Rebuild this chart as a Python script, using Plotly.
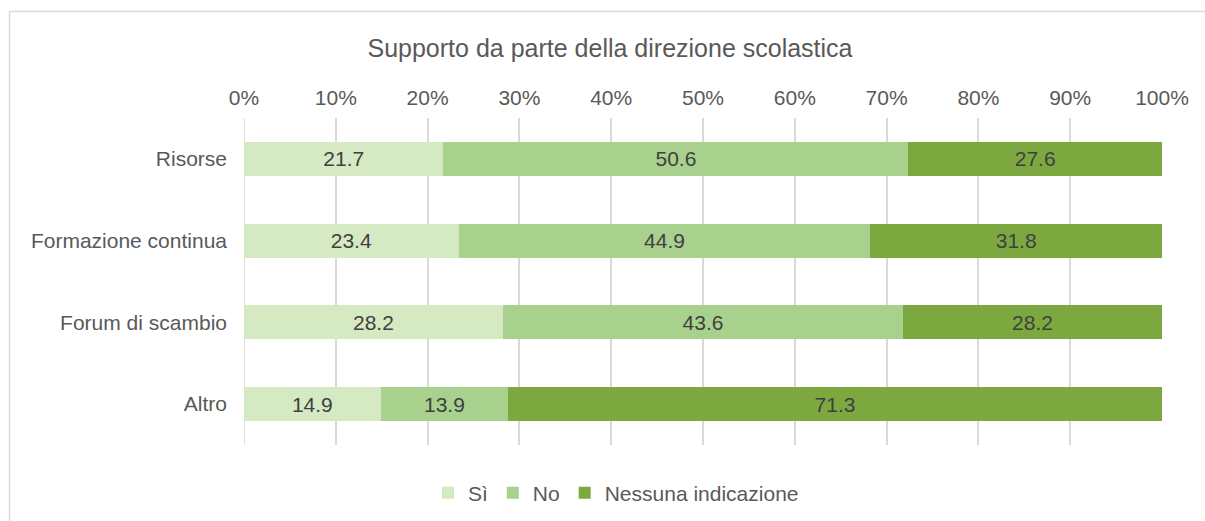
import plotly.graph_objects as go

categories = ["Risorse", "Formazione continua", "Forum di scambio", "Altro"]
si_values = [21.7, 23.4, 28.2, 14.9]
no_values = [50.6, 44.9, 43.6, 13.9]
nessuna_values = [27.6, 31.8, 28.2, 71.3]
series_names = ["Sì", "No", "Nessuna indicazione"]
tick_values = [0, 10, 20, 30, 40, 50, 60, 70, 80, 90, 100]
tick_labels = [f"{v}%" for v in tick_values]
title_text = "Supporto da parte della direzione scolastica"

colors = ["#D5EAC3", "#A9D18E", "#7DA83F"]
FONT = "Liberation Sans, Arial, sans-serif"

W, H = 1205, 521
L, R, T, B = 244, 1162, 118, 445
pw, ph = R - L, B - T

fig = go.Figure()
for name, vals, col in zip(series_names, [si_values, no_values, nessuna_values], colors):
    fig.add_trace(go.Bar(
        y=categories, x=vals, name=name, orientation="h",
        marker=dict(color=col, line=dict(width=0)),
        text=[f"{v:.1f}" for v in vals], texttemplate="%{text}",
        textposition="inside", insidetextanchor="middle", textangle=0,
        constraintext="none",
        textfont=dict(family=FONT, size=21, color="#404040"),
        hoverinfo="skip",
    ))

def px_x(p):
    return (p - L) / pw

def px_y(p):
    return (B - p) / ph

fig.update_layout(
    width=W, height=H,
    margin=dict(l=L, r=W - R, t=T, b=H - B, pad=0, autoexpand=False),
    barmode="stack", barnorm="percent", bargap=0.584,
    paper_bgcolor="white", plot_bgcolor="white",
    font=dict(family=FONT, size=21, color="#595959"),
    title=dict(text=title_text, x=610 / W, xanchor="center", xref="container",
               y=1 - 48 / H, yanchor="middle", yref="container",
               font=dict(family=FONT, size=25, color="#595959")),
    xaxis=dict(side="top", range=[0, 100], tickvals=tick_values, ticktext=tick_labels,
               showgrid=True, gridcolor="#D9D9D9", gridwidth=1.5,
               zeroline=False, showline=False, ticks="", ticklabelstandoff=8,
               tickfont=dict(family=FONT, size=21, color="#595959"), fixedrange=True),
    yaxis=dict(categoryorder="array", categoryarray=categories, autorange="reversed",
               showgrid=False, zeroline=False, showline=False, ticks="",
               ticklabelstandoff=16, fixedrange=True,
               tickfont=dict(family=FONT, size=21, color="#595959")),
    legend=dict(orientation="h", x=px_x(616), xanchor="center", y=px_y(493), yanchor="middle",
                font=dict(family=FONT, size=21, color="#595959"), traceorder="normal",
                itemwidth=30, bgcolor="rgba(0,0,0,0)"),
    showlegend=True,
    shapes=[
        dict(type="rect", xref="paper", yref="paper",
             x0=px_x(9.5), x1=px_x(1215), y0=px_y(540), y1=px_y(11.5),
             line=dict(color="#D9D9D9", width=1.5), fillcolor="rgba(0,0,0,0)", layer="below"),
        dict(type="line", xref="x", yref="paper", x0=0, x1=0, y0=0, y1=1,
             line=dict(color="#D9D9D9", width=1.5), layer="below"),
    ],
)

fig.write_html("out.html", config={"displayModeBar": False},
               post_script="document.body.style.margin='0';document.body.style.overflow='hidden';")
